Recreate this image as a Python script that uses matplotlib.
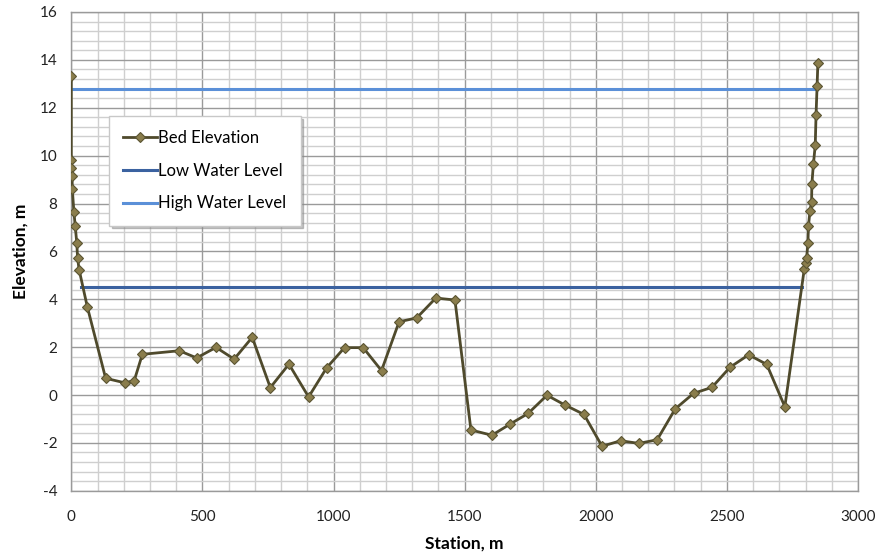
import matplotlib
matplotlib.use("Agg")
import matplotlib.pyplot as plt
from matplotlib.ticker import MultipleLocator

# Bed profile (station m, elevation m)
station = [0, 0, 0, 3, 4, 10, 15, 21, 24, 30, 61,
           131, 204, 240, 271, 412, 478, 552, 621, 690, 759, 830,
           905, 974, 1042, 1113, 1183, 1250, 1317, 1390, 1463,
           1524, 1604, 1674, 1742, 1814, 1883, 1955, 2024, 2095, 2164, 2234,
           2303, 2373, 2443, 2512, 2583, 2652, 2721,
           2795, 2800, 2804, 2809, 2811, 2817, 2823, 2824, 2830, 2837, 2840, 2844, 2847]
elevation = [13.34, 9.82, 9.49, 9.16, 8.59, 7.64, 7.06, 6.35, 5.72, 5.23, 3.69,
             0.70, 0.51, 0.60, 1.70, 1.85, 1.55, 1.99, 1.50, 2.41, 0.31, 1.29,
             -0.08, 1.14, 1.98, 1.98, 1.02, 3.06, 3.22, 4.05, 3.97,
             -1.46, -1.68, -1.21, -0.77, -0.01, -0.42, -0.81, -2.14, -1.91, -2.02, -1.87,
             -0.58, 0.07, 0.32, 1.16, 1.68, 1.28, -0.49,
             5.25, 5.53, 5.71, 6.34, 7.05, 7.70, 8.07, 8.81, 9.65, 10.44, 11.70, 12.91, 13.88]

low_x = [38, 2785]
low_y = [4.5, 4.5]
high_x = [0, 2844]
high_y = [12.8, 12.8]

x_ticks = [0, 500, 1000, 1500, 2000, 2500, 3000]
y_ticks = [-4, -2, 0, 2, 4, 6, 8, 10, 12, 14, 16]

font = ["Lato", "DejaVu Sans"]
plt.rcParams["font.family"] = font
plt.rcParams["axes.unicode_minus"] = False

fig = plt.figure(figsize=(8.8, 5.55), dpi=100)
ax = fig.add_axes([0.081, 0.1157, 0.894, 0.8627])

ax.set_xlim(0, 3000)
ax.set_ylim(-4, 16)
ax.set_xticks(x_ticks)
ax.set_yticks(y_ticks)
ax.xaxis.set_minor_locator(MultipleLocator(100))
ax.yaxis.set_minor_locator(MultipleLocator(0.4))
ax.grid(which="major", color="#9a9a9a", linewidth=1.0, zorder=0)
ax.grid(which="minor", color="#cfcfcf", linewidth=1.0, zorder=0)
ax.set_axisbelow(True)
ax.tick_params(which="both", length=0)
ax.tick_params(axis="x", pad=14, labelsize=11, colors="#222222")
ax.tick_params(axis="y", pad=10, labelsize=11, colors="#222222")
for s in ax.spines.values():
    s.set_color("#9a9a9a")
    s.set_linewidth(1.0)

ax.plot(station, elevation, color="#4f4a2c", linewidth=2.0, marker="D",
        markersize=5.5, markerfacecolor="#8a7d4c", markeredgecolor="#5a5432",
        markeredgewidth=0.8, label="Bed Elevation", zorder=3)
ax.plot(low_x, low_y, color="#3b62a0", linewidth=2.2, label="Low Water Level", zorder=2)
ax.plot(high_x, high_y, color="#5b90d8", linewidth=2.2, label="High Water Level", zorder=2)

ax.set_xlabel("Station, m", fontsize=12.5, fontweight="bold", labelpad=8)
ax.set_ylabel("Elevation, m", fontsize=12.5, fontweight="bold", labelpad=8)

leg = ax.legend(loc="upper left", bbox_to_anchor=(0.048, 0.783), fontsize=12,
                handlelength=2.0, handletextpad=0.1, labelspacing=1.0,
                borderpad=0.85, fancybox=False, shadow={"color": "#888888", "alpha": 0.5},
                framealpha=1.0, edgecolor="#c8c8c8", borderaxespad=0)
leg.get_frame().set_linewidth(1.0)

fig.savefig("out.png", dpi=100)
